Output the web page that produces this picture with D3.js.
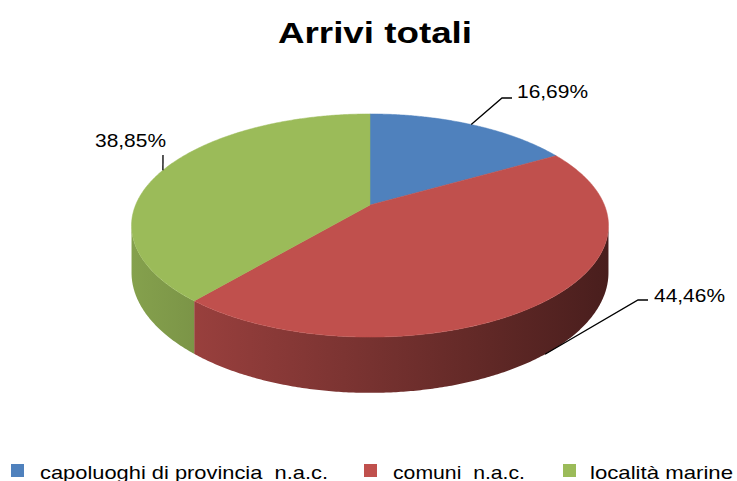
<!DOCTYPE html>
<html><head><meta charset="utf-8">
<script src="https://cdn.jsdelivr.net/npm/d3@7"></script>
<style>body{margin:0;background:#fff}svg{display:block}</style>
</head><body><svg id="c" width="737" height="481"></svg>
<script>
// ---- data ----
const title = "Arrivi totali";
const categories = ["capoluoghi di provincia  n.a.c.", "comuni  n.a.c.", "località marine"];
const values = [16.69, 44.46, 38.85];
const valueLabels = ["16,69%", "44,46%", "38,85%"];
const colors = ["#4f81bd", "#c0504d", "#9bbb59"];

// ---- layout ----
const svg = d3.select("#c");
const cx = 370, cy = 205, A = 234.4, B = 107.8, P = 0.184, DEPTH = 45.5;
const FONT = "'Liberation Sans', Arial, sans-serif";

function proj(theta) {
  const u = Math.sin(theta), v = -Math.cos(theta);
  const d = 1 - P * v;
  return { x: cx + A * u / d, y: cy + B * v / d, h: DEPTH / d, v: v };
}

const arcs = d3.pie().sort(null).value(d => d)(values);
const shade = d3.scaleLinear().domain([130, 370, 608]).range([0.86, 0.62, 0.38]).clamp(true);
function darker(c, f) { const r = d3.rgb(c); return d3.rgb(r.r * f, r.g * f, r.b * f).formatHex(); }

// gradients for side walls
const defs = svg.append("defs");
colors.forEach((c, i) => {
  const g = defs.append("linearGradient").attr("id", "side" + i)
    .attr("gradientUnits", "userSpaceOnUse")
    .attr("x1", 130).attr("y1", 0).attr("x2", 608).attr("y2", 0);
  [130, 250, 370, 490, 608].forEach(x => {
    g.append("stop").attr("offset", (x - 130) / 478).attr("stop-color", darker(c, shade(x)));
  });
});

// visible front range of the wall (silhouette angles)
const frontStart = Math.acos(-P), frontEnd = 2 * Math.PI - Math.acos(-P);
const step = Math.PI / 360;
const sideG = svg.append("g");
arcs.forEach((a, i) => {
  const s = Math.max(a.startAngle, frontStart), e = Math.min(a.endAngle, frontEnd);
  if (e <= s) return;
  const n = Math.max(2, Math.ceil((e - s) / step));
  const top = [], bot = [];
  for (let k = 0; k <= n; k++) {
    const p = proj(s + (e - s) * k / n);
    top.push([p.x, p.y]); bot.push([p.x, p.y + p.h]);
  }
  const pts = top.concat(bot.reverse());
  sideG.append("path")
    .attr("d", "M" + pts.map(p => p.join(",")).join("L") + "Z")
    .attr("fill", `url(#side${i})`);
});

// top faces
const line = d3.line().x(d => d.x).y(d => d.y);
svg.append("g").selectAll("path").data(arcs).join("path")
  .attr("d", a => {
    const pts = [{ x: cx, y: cy }];
    const n = Math.max(2, Math.ceil((a.endAngle - a.startAngle) / step));
    for (let k = 0; k <= n; k++) pts.push(proj(a.startAngle + (a.endAngle - a.startAngle) * k / n));
    return line(pts) + "Z";
  })
  .attr("fill", (a, i) => colors[i])
  .attr("stroke", (a, i) => colors[i])
  .attr("stroke-width", 0.5);

// data labels with leader lines
const labelLayout = [
  { onSide: false, ex: 502, ey: 98, hx: 512, tx: 517, ty: 98 },
  { onSide: true,  ex: 638, ey: 300, hx: 648, tx: 654, ty: 302 },
  { onSide: false, ex: 163, ey: 155, hx: 163, tx: 95, ty: 147 }
];
const lg = svg.append("g");
arcs.forEach((a, i) => {
  const L = labelLayout[i];
  const p = proj((a.startAngle + a.endAngle) / 2);
  const ax = p.x, ay = L.onSide ? p.y + p.h : p.y;
  lg.append("path")
    .attr("d", `M${ax},${ay}L${L.ex},${L.ey}L${L.hx},${L.ey}`)
    .attr("fill", "none").attr("stroke", "#000").attr("stroke-width", 1.3);
  lg.append("text").attr("x", L.tx).attr("y", L.ty)
    .attr("font-family", FONT).attr("font-size", 19).attr("fill", "#000")
    .attr("textLength", 71).attr("lengthAdjust", "spacingAndGlyphs")
    .text(valueLabels[i]);
});

// title
svg.append("text").attr("x", 278).attr("y", 43)
  .attr("font-family", FONT).attr("font-weight", "bold").attr("font-size", 29)
  .attr("fill", "#000").attr("textLength", 194).attr("lengthAdjust", "spacingAndGlyphs")
  .text(title);

// legend
const legendLayout = [
  { sx: 11, tx: 40, tw: 288 },
  { sx: 364, tx: 393, tw: 132 },
  { sx: 563, tx: 590, tw: 143 }
];
const leg = svg.append("g");
categories.forEach((c, i) => {
  const L = legendLayout[i];
  leg.append("rect").attr("x", L.sx).attr("y", 464).attr("width", 13).attr("height", 13).attr("fill", colors[i]);
  leg.append("text").attr("x", L.tx).attr("y", 479)
    .attr("font-family", FONT).attr("font-size", 19).attr("fill", "#000")
    .attr("textLength", L.tw).attr("lengthAdjust", "spacingAndGlyphs")
    .style("white-space", "pre")
    .text(c);
});
</script></body></html>
